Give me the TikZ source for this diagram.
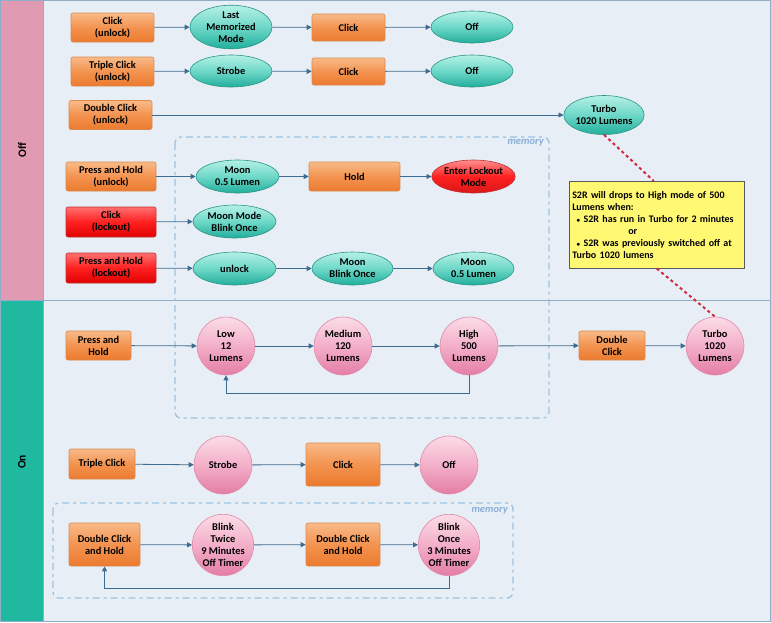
\documentclass[tikz,border=0pt]{standalone}
\usepackage{fontspec}
\setmainfont{Carlito}
\usetikzlibrary{arrows.meta,shapes.geometric,calc}
\definecolor{bgc}{HTML}{E8EEF5}
\definecolor{offc}{HTML}{E09BB3}
\definecolor{onc}{HTML}{20B9A0}
\definecolor{lanel}{HTML}{8FAFC8}
\definecolor{arr}{HTML}{3D6B91}
\definecolor{memc}{HTML}{9BC4E2}
\definecolor{memt}{HTML}{8AAFD8}
\definecolor{redl}{HTML}{D02A3C}
\definecolor{ortop}{HTML}{F9BA88}
\definecolor{ormid}{HTML}{F39350}
\definecolor{orbot}{HTML}{EC7A2E}
\definecolor{ordr}{HTML}{D98A50}
\definecolor{rdtop}{HTML}{FF7070}
\definecolor{rdmid}{HTML}{FF2020}
\definecolor{rdbot}{HTML}{E00000}
\definecolor{rddr}{HTML}{C03030}
\definecolor{tltop}{HTML}{B5F0E6}
\definecolor{tlmid}{HTML}{6ED8C8}
\definecolor{tlbot}{HTML}{22AE9C}
\definecolor{tldr}{HTML}{2A9585}
\definecolor{pktop}{HTML}{FBDCE6}
\definecolor{pkmid}{HTML}{F3AFC8}
\definecolor{pkbot}{HTML}{E47DA5}
\definecolor{pkdr}{HTML}{E08AAE}
\definecolor{rltop}{HTML}{FF9090}
\definecolor{rlbot}{HTML}{D81818}
\tikzset{
  x=1pt,y=-1pt,
  every node/.style={font=\fontsize{10.4}{12}\selectfont\bfseries, align=center, inner sep=1pt},
  obox/.style={rectangle, rounded corners=2pt, draw=ordr, line width=0.6pt,
     top color=ortop, bottom color=orbot, middle color=ormid},
  rbox/.style={rectangle, rounded corners=2pt, draw=rddr, line width=0.6pt,
     top color=rdtop, bottom color=rdbot, middle color=rdmid},
  tell/.style={ellipse, draw=tldr, line width=0.6pt, inner sep=0pt,
     top color=tltop, bottom color=tlbot, middle color=tlmid},
  rell/.style={ellipse, draw=rddr, line width=0.6pt, inner sep=0pt,
     top color=rltop, bottom color=rlbot, middle color=rdmid},
  pcirc/.style={circle, draw=pkdr, line width=0.6pt, inner sep=0pt,
     minimum size=58pt, top color=pktop, bottom color=pkbot, middle color=pkmid},
  flow/.style={draw=arr, line width=0.8pt, -{Triangle[length=5pt,width=5pt]}},
  memline/.style={draw=memc, line width=1.3pt, dash pattern=on 7pt off 4pt on 3pt off 4pt, rounded corners=6pt},
  memlab/.style={font=\fontsize{10.5}{12}\selectfont\bfseries\itshape, text=memt},
  redlink/.style={draw=redl, line width=2pt, dash pattern=on 3pt off 3pt},
}
\begin{document}
\begin{tikzpicture}
\useasboundingbox (0,0) rectangle (771,622);
% lanes
\fill[bgc] (0,0) rectangle (771,622);
\fill[offc] (0,0) rectangle (43,300);
\fill[onc] (0,300) rectangle (43,622);
\draw[lanel, line width=0.8pt] (0.5,0.5) rectangle (770.5,621.5);
\draw[lanel, line width=0.8pt] (43,0) -- (43,622);
\draw[lanel, line width=0.8pt] (0,300) -- (771,300);
\node[rotate=90, font=\fontsize{11.5}{13}\selectfont\bfseries] (offlab) at (22,150) {Off};
\node[rotate=90, font=\fontsize{11.5}{13}\selectfont\bfseries] (onlab) at (22,462) {On};

% memory boxes
\draw[memline] (175,137) rectangle (549,418);
\node[memlab, anchor=east] (mem1) at (545,143) {memory};
\draw[memline] (53,503) rectangle (513,598);
\node[memlab, anchor=east] (mem2) at (509,511) {memory};

% Off lane row 1
\node[obox, minimum width=83pt, minimum height=29pt] (c1) at (112.5,27.5) {Click\\(unlock)};
\node[tell, minimum width=82pt, minimum height=37pt] (lmm) at (231,27) {Last\\Memorized\\Mode};
\node[obox, minimum width=73pt, minimum height=27pt] (c1b) at (348.5,27.5) {Click};
\node[tell, minimum width=82pt, minimum height=32pt] (off1) at (472,27) {Off};
\draw[flow] (c1) -- (lmm);
\draw[flow] (lmm) -- (c1b);
\draw[flow] (c1b) -- (off1);
% row 2
\node[obox, minimum width=83pt, minimum height=29pt] (tc1) at (112.5,71.5) {Triple Click\\(unlock)};
\node[tell, minimum width=82pt, minimum height=32pt] (strb1) at (231,71) {Strobe};
\node[obox, minimum width=73pt, minimum height=27pt] (c2b) at (348.5,71.5) {Click};
\node[tell, minimum width=82pt, minimum height=32pt] (off2) at (472,71) {Off};
\draw[flow] (tc1) -- (strb1);
\draw[flow] (strb1) -- (c2b);
\draw[flow] (c2b) -- (off2);
% row 3
\node[obox, minimum width=83pt, minimum height=29pt] (dc1) at (110.5,115) {Double Click\\(unlock)};
\node[tell, minimum width=70pt, minimum height=39pt] (turboE) at (604,115) {Turbo\\1020 Lumens};
\draw[flow] (dc1) -- (turboE);
% row 4
\node[obox, minimum width=90pt, minimum height=29pt] (phu) at (111,176.5) {Press and Hold\\(unlock)};
\node[tell, minimum width=83pt, minimum height=33pt] (moon1) at (237.5,176.5) {Moon\\0.5 Lumen};
\node[obox, minimum width=91pt, minimum height=29pt] (hold) at (354.5,176.5) {Hold};
\node[rell, minimum width=81pt, minimum height=33pt] (lock) at (473.5,176.5) {Enter Lockout\\Mode};
\draw[flow] (phu) -- (moon1);
\draw[flow] (moon1) -- (hold);
\draw[flow] (hold) -- (lock);
% row 5
\node[rbox, minimum width=90pt, minimum height=30pt] (cl) at (111,222) {Click\\(lockout)};
\node[tell, minimum width=83pt, minimum height=33pt] (mmbo) at (234.5,221.5) {Moon Mode\\Blink Once};
\draw[flow] (cl) -- (mmbo);
% row 6
\node[rbox, minimum width=90pt, minimum height=30pt] (phl) at (111,268) {Press and Hold\\(lockout)};
\node[tell, minimum width=83pt, minimum height=33pt] (unl) at (234.5,268.5) {unlock};
\node[tell, minimum width=81pt, minimum height=33pt] (mbo) at (352.5,268.5) {Moon\\Blink Once};
\node[tell, minimum width=81pt, minimum height=33pt] (moon2) at (473.5,268.5) {Moon\\0.5 Lumen};
\draw[flow] (phl) -- (unl);
\draw[flow] (unl) -- (mbo);
\draw[flow] (mbo) -- (moon2);

% note
\node[draw=gray!70!black, line width=0.5pt, fill=yellow!55, minimum width=175pt, minimum height=87pt,
      text width=169pt, align=left, anchor=north west, inner sep=3pt, font=\fontsize{10}{12}\selectfont\bfseries] (note) at (569,181)
  {S2R will drops to High mode of 500\\Lumens when:\\
   \hspace*{4pt}{\fontsize{7}{8}\selectfont$\bullet$} S2R has run in Turbo for 2 minutes\\
   \hspace*{56pt}or\\
   \hspace*{4pt}{\fontsize{7}{8}\selectfont$\bullet$} S2R was previously switched off at\\
   Turbo 1020 lumens};

% On lane row 1
\node[obox, minimum width=65pt, minimum height=29pt] (pho) at (98.5,345.5) {Press and\\Hold};
\node[pcirc] (low) at (226,346) {Low\\12\\Lumens};
\node[pcirc] (med) at (343,346) {Medium\\120\\Lumens};
\node[pcirc] (high) at (469,346) {High\\500\\Lumens};
\node[obox, minimum width=66pt, minimum height=29pt] (dco) at (612,345.5) {Double\\Click};
\node[pcirc] (turboC) at (715,346) {Turbo\\1020\\Lumens};
\draw[flow] (pho) -- (low);
\draw[flow] (low) -- (med);
\draw[flow] (med) -- (high);
\draw[flow] (high) -- (dco);
\draw[flow] (dco) -- (turboC);
\draw[flow] (high.south) -- ++(0,18) -| (low.south);

% row 2
\node[obox, minimum width=66pt, minimum height=30pt] (tco) at (102,464) {Triple Click};
\node[pcirc] (strb2) at (223,465) {Strobe};
\node[obox, minimum width=74pt, minimum height=43pt] (c3) at (343,464.5) {Click};
\node[pcirc] (off3) at (449,465) {Off};
\draw[flow] (tco) -- (strb2);
\draw[flow] (strb2) -- (c3);
\draw[flow] (c3) -- (off3);

% row 3
\node[obox, minimum width=71pt, minimum height=43pt] (dch1) at (104.5,544.5) {Double Click\\and Hold};
\node[pcirc, minimum size=60pt] (bt) at (223,545) {Blink\\Twice\\9 Minutes\\Off Timer};
\node[obox, minimum width=74pt, minimum height=43pt] (dch2) at (343,544.5) {Double Click\\and Hold};
\node[pcirc, minimum size=60pt] (bo) at (449,545) {Blink\\Once\\3 Minutes\\Off Timer};
\draw[flow] (dch1) -- (bt);
\draw[flow] (bt) -- (dch2);
\draw[flow] (dch2) -- (bo);
\draw[flow] (bo.south) -- (bo.south |- 0,588) -| (dch1.south);

% red dashed links
\draw[redlink] (turboE.south) -- ($(note.north)+(-3,0)$);
\draw[redlink] (note.south) -- (turboC.north);
\end{tikzpicture}
\end{document}
